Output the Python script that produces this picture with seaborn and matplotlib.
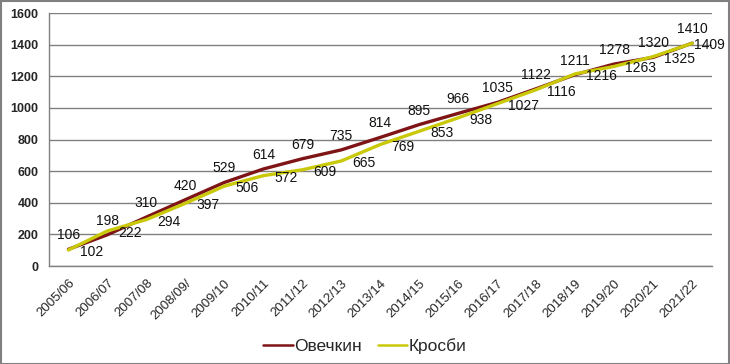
import matplotlib
matplotlib.use('Agg')
import matplotlib.pyplot as plt
import seaborn as sns
import pandas as pd
from matplotlib.patches import Rectangle

seasons = ['2005/06', '2006/07', '2007/08', '2008/09/', '2009/10', '2010/11', '2011/12',
           '2012/13', '2013/14', '2014/15', '2015/16', '2016/17', '2017/18', '2018/19',
           '2019/20', '2020/21', '2021/22']
ovechkin = [106, 198, 310, 420, 529, 614, 679, 735, 814, 895, 966, 1035, 1122, 1211, 1278, 1320, 1410]
crosby = [102, 222, 294, 397, 506, 572, 609, 665, 769, 853, 938, 1027, 1116, 1216, 1263, 1325, 1409]

names = ['Овечкин', 'Кросби']
colors = {'Овечкин': '#7e1416', 'Кросби': '#c9c90a'}

df = pd.DataFrame({
    'season': seasons * 2,
    'pos': list(range(len(seasons))) * 2,
    'points': ovechkin + crosby,
    'player': [names[0]] * len(seasons) + [names[1]] * len(seasons),
})

sns.set_style('white')
plt.rcParams['font.family'] = ['Liberation Sans', 'DejaVu Sans']

fig = plt.figure(figsize=(7.3, 3.64), dpi=100)
ax = fig.add_axes([0.067, 0.269, 0.908, 0.695])

sns.lineplot(data=df, x='pos', y='points', hue='player', palette=colors,
             linewidth=2.4, sort=False, ax=ax, legend=False)

# data labels: Ovechkin above, Crosby to the right
for i, v in enumerate(ovechkin):
    ax.annotate(str(v), (i, v), xytext=(0, 5), textcoords='offset points',
                ha='center', va='bottom', fontsize=10, color='#111111')
for i, v in enumerate(crosby):
    # last one sits tight against the point so it stays inside the figure
    dx = 1 if i == len(crosby) - 1 else 8
    ax.annotate(str(v), (i, v), xytext=(dx, -1.5), textcoords='offset points',
                ha='left', va='center', fontsize=10, color='#111111')

ax.set_xlim(-0.5, len(seasons) - 0.5)
ax.set_ylim(0, 1600)
ax.set_yticks(range(0, 1601, 200))
ax.set_xticks(range(len(seasons)))
ax.set_xticklabels(seasons, rotation=45, ha='right', rotation_mode='anchor', fontsize=9.5)
ax.set_xticks([i - 0.5 for i in range(len(seasons) + 1)], minor=True)
ax.tick_params(axis='x', which='major', length=0, pad=8)
ax.tick_params(axis='x', which='minor', length=4, color='#808080', width=1, direction='out')
ax.tick_params(axis='y', length=4, color='#808080', width=1, direction='out', labelsize=9)
for lab in ax.get_yticklabels():
    lab.set_fontweight('bold')

ax.yaxis.grid(True, color='#808080', linewidth=1)
ax.set_axisbelow(True)
for s in ['top', 'right']:
    ax.spines[s].set_visible(False)
for s in ['left', 'bottom']:
    ax.spines[s].set_color('#808080')
    ax.spines[s].set_linewidth(1)
ax.set_xlabel('')
ax.set_ylabel('')

handles = [plt.Line2D([], [], color=colors[n], linewidth=1.8) for n in names]
fig.legend(handles, names, loc='center', bbox_to_anchor=(0.5, 0.05), ncol=2,
           frameon=False, fontsize=12.5, handlelength=1.7, handletextpad=0.1,
           columnspacing=0.9)

fig.patches.append(Rectangle((0.001, 0.001), 0.997, 0.996, transform=fig.transFigure,
                             fill=False, edgecolor='#808080', linewidth=1.5))

fig.savefig('out.png', dpi=100)
